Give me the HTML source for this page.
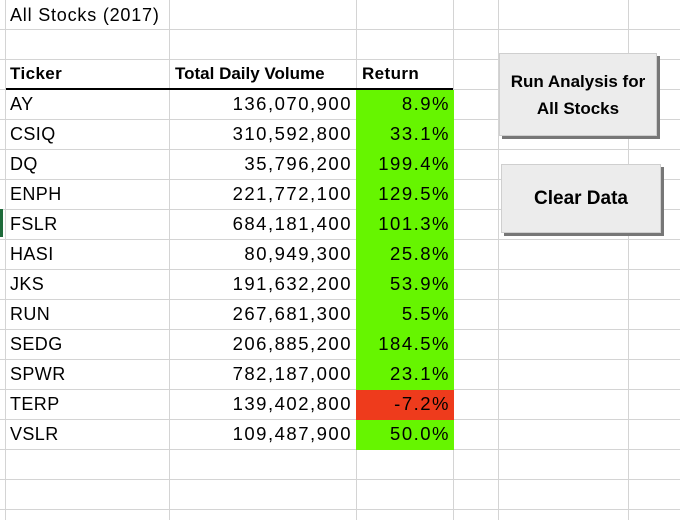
<!DOCTYPE html>
<html><head><style>
body{margin:0;width:680px;height:520px;background:#fff;overflow:hidden;position:relative;font-family:"Liberation Sans",sans-serif;}
.h{position:absolute;left:0;width:680px;height:1px;background:#d4d4d4}
.v{position:absolute;top:0;height:520px;width:1px;background:#d4d4d4}
.c{position:absolute;height:30px;line-height:30px;font-size:18px;color:#000;white-space:nowrap;box-sizing:border-box;letter-spacing:0.4px}
.n{letter-spacing:1.5px;font-size:18.5px}
.btn{position:absolute;background:#ececec;border:1px solid #cfcfcf;box-shadow:3px 3px 0 #777;font-weight:bold;font-size:17px;text-align:center;display:flex;align-items:center;justify-content:center;line-height:27px}
</style></head><body>
<div id="grid"></div>
<div class="c" style="left:10px;top:1px;height:28px;line-height:28px;letter-spacing:0.8px">All Stocks (2017)</div>
<div class="c" style="left:10px;top:59px;font-weight:bold;font-size:17px">Ticker</div>
<div class="c" style="left:175px;top:59px;font-weight:bold;font-size:17px;letter-spacing:0">Total Daily Volume</div>
<div class="c" style="left:362px;top:59px;font-weight:bold;font-size:17px">Return</div>
<div style="position:absolute;left:6px;top:88px;width:447px;height:2px;background:#000"></div>
<div style="position:absolute;left:0;top:209px;width:3px;height:28px;background:#1e6b3a"></div>
<div id="rows"></div>
<div class="btn" style="left:499px;top:53px;width:156px;height:81px">Run Analysis for<br>All Stocks</div>
<div class="btn" style="left:501px;top:164px;width:158px;height:67px;font-size:19px">Clear Data</div>
<script>
const tickers=["AY","CSIQ","DQ","ENPH","FSLR","HASI","JKS","RUN","SEDG","SPWR","TERP","VSLR"];
const volumes=["136,070,900","310,592,800","35,796,200","221,772,100","684,181,400","80,949,300","191,632,200","267,681,300","206,885,200","782,187,000","139,402,800","109,487,900"];
const returns=[8.9,33.1,199.4,129.5,101.3,25.8,53.9,5.5,184.5,23.1,-7.2,50.0];
const g=document.getElementById('grid');
[29,59,89,119,149,179,209,239,269,299,329,359,389,419,449,479,509].forEach(y=>{const d=document.createElement('div');d.className='h';d.style.top=y+'px';

g.appendChild(d);});
[5,169,356,453,498,628].forEach(x=>{const d=document.createElement('div');d.className='v';d.style.left=x+'px';

g.appendChild(d);});
const r=document.getElementById('rows');
tickers.forEach((t,i)=>{const top=89+i*30;
const a=document.createElement('div');a.className='c';a.style.left='10px';a.style.top=top+'px';a.textContent=t;

r.appendChild(a);
const b=document.createElement('div');b.className='c n';b.style.left='170px';b.style.width='182px';b.style.textAlign='right';b.style.top=top+'px';b.textContent=volumes[i];

r.appendChild(b);
const c=document.createElement('div');c.className='c n';c.style.left='356px';c.style.width='98px';c.style.textAlign='right';c.style.paddingRight='4px';c.style.top=(top+1)+'px';c.style.height='30px';c.style.lineHeight='28px';
c.style.background=returns[i]<0?'#ee3b1c':'#66f500';c.textContent=returns[i].toFixed(1)+'%';

r.appendChild(c);});
</script>
</body></html>
